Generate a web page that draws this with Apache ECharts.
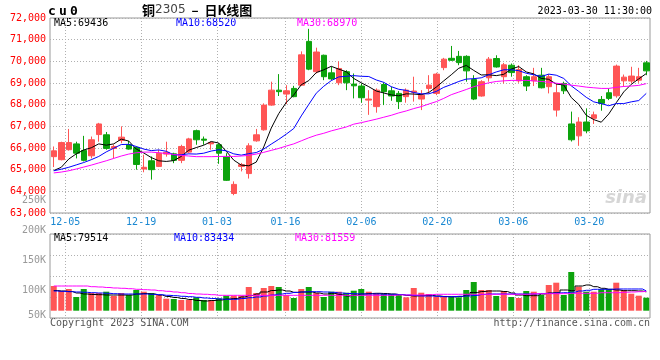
<!DOCTYPE html>
<html><head><meta charset="utf-8">
<script src="https://cdn.jsdelivr.net/npm/echarts/dist/echarts.min.js"></script>
<style>html,body{margin:0;padding:0;background:#fff}#c{width:660px;height:360px}</style>
</head><body><div id="c"></div>
<script>
const dates = ['12-01','12-02','12-05','12-06','12-07','12-08','12-09','12-12','12-13','12-14','12-15','12-16','12-19','12-20','12-21','12-22','12-23','12-26','12-27','12-28','12-29','12-30','01-03','01-04','01-05','01-06','01-09','01-10','01-11','01-12','01-13','01-16','01-17','01-18','01-19','01-20','01-30','01-31','02-01','02-02','02-03','02-06','02-07','02-08','02-09','02-10','02-13','02-14','02-15','02-16','02-17','02-20','02-21','02-22','02-23','02-24','02-27','02-28','03-01','03-02','03-03','03-06','03-07','03-08','03-09','03-10','03-13','03-14','03-15','03-16','03-17','03-20','03-21','03-22','03-23','03-24','03-27','03-28','03-29','03-30'];
const tickDates = ['12-05','12-19','01-03','01-16','02-06','02-20','03-06','03-20'];

const opens  = [65600,65460,65920,66190,65890,65640,66620,66610,65980,66350,66150,66020,65030,65410,65150,65720,65730,65430,65810,66800,66410,66190,66150,65610,63900,65150,64820,66330,66840,67980,68670,68490,68750,68900,70920,69520,70280,69470,69010,69520,68950,68860,68210,67910,68930,68640,68520,68370,68570,68260,68750,68520,69710,70140,70230,70230,69160,68400,69240,70130,69290,69820,69100,69290,69100,69360,68830,67750,68980,67110,66560,67200,67370,68240,68550,68410,69100,69090,69130,69930];
const closes = [65870,66250,66250,65760,65430,66380,67110,65980,66070,66500,65950,65240,65110,65000,65760,65800,65430,66070,66420,66380,66360,66250,65760,64510,64320,65230,66100,66610,67980,68670,68600,68640,68370,70300,69640,70430,69290,69190,69670,69010,68870,68320,68260,68670,68600,68400,68140,68670,68630,68440,68900,69410,70100,70050,69940,69560,68260,69060,70100,69740,69840,69480,69620,68860,69290,68780,69290,68550,68640,66380,67200,66790,67530,68060,68290,69780,69270,69320,69290,69560];
const lows   = [65120,65430,65880,65520,65380,65520,66290,65920,65520,66220,65920,65000,64880,64540,65120,65600,65300,65300,65760,66150,66150,65920,65270,64480,63820,64920,64590,66290,66800,67950,68400,68030,68340,68860,69590,69440,69130,69130,68900,68670,68290,68090,67530,67630,67980,68180,67800,68090,68140,67750,68520,68440,69590,70020,69820,69060,68210,68370,69060,69710,68980,69290,69010,68630,68860,68750,68520,67450,68490,66300,66100,66680,67110,67720,68210,68320,68830,68980,69010,69360];
const highs  = [66070,66290,66880,66290,66560,66530,67160,66740,66160,67000,66330,66070,65690,65610,65920,66290,65780,66150,66470,66850,66530,66300,66220,65760,64460,65310,66220,66880,68060,69060,69410,68900,68870,70460,71500,70630,70310,69750,70000,69590,69440,68980,68670,68750,69030,68830,68630,68750,69290,68670,69360,69470,70160,70710,70480,70280,69360,69130,70200,70280,69930,69900,69820,69360,69700,69700,69410,68980,69060,67680,67420,67830,67680,68400,68750,69850,69390,69750,69700,70020];

const ma5  = [64960,65110,65490,65730,65910,66010,66190,66130,66190,66410,66320,65950,65770,65560,65410,65380,65420,65610,65900,66020,66130,66300,66230,65850,65440,65210,65180,65350,66050,66920,67590,68100,68450,68920,69110,69480,69610,69770,69640,69520,69210,69010,68830,68630,68540,68450,68410,68500,68490,68460,68560,68810,69100,69380,69680,69810,69580,69370,69380,69340,69400,69640,69760,69510,69420,69210,69170,68950,68910,68330,68010,67510,67310,67190,67570,68090,68590,68940,69190,69436];
const ma10 = [64950,65020,65110,65220,65330,65460,65610,65820,65990,66160,66170,66070,65950,65880,65910,65850,65680,65690,65730,65720,65760,65860,65920,65870,65730,65670,65740,65790,65950,66180,66400,66640,66900,67480,68010,68530,68850,69110,69280,69310,69340,69310,69300,69140,69030,68830,68710,68660,68560,68500,68500,68610,68800,68930,69070,69180,69200,69240,69380,69510,69610,69610,69570,69450,69380,69300,69410,69360,69210,68870,68610,68340,68130,68050,67950,68050,68050,68130,68190,68520];
const ma30 = [64850,64890,64950,65030,65120,65210,65310,65410,65520,65630,65720,65780,65810,65810,65780,65750,65700,65660,65630,65600,65600,65600,65610,65610,65610,65630,65660,65720,65800,65890,65980,66090,66190,66330,66470,66590,66680,66790,66880,66970,67100,67170,67250,67330,67420,67510,67620,67710,67820,67910,68030,68140,68290,68460,68580,68700,68830,68920,69010,69070,69100,69120,69120,69120,69100,69070,69040,68990,68950,68900,68860,68810,68780,68750,68750,68800,68840,68860,68890,68970];

const volumes = [104300,83200,91700,57900,91700,74800,74800,80300,62100,74800,66300,87400,80300,74800,66300,50700,49400,45200,45200,56600,45200,45200,52400,63400,63400,63400,100100,74800,95900,104300,100100,66300,53600,91700,100100,74800,57900,80300,80300,76000,84500,91700,80300,73500,70500,70500,69300,56600,95900,76000,70500,59100,59100,59100,56600,87400,121200,87400,87400,62100,83200,57900,53600,83200,80300,66300,108600,118300,66300,163500,101400,80300,80300,90400,90400,118300,87400,71800,63400,54900];
const volMa5  = [85300,83200,81100,74800,70500,68400,67600,66300,66300,66300,66300,70500,72700,70500,66300,60000,55800,51500,47300,43100,41000,43100,45200,49400,51500,57900,64200,70500,79000,85300,87400,83200,77700,79000,79000,74800,70500,73500,68400,62100,66300,70500,72700,73500,72700,70500,68400,64200,62100,64200,65000,62100,60000,59100,60000,66300,76900,81100,83200,83200,81100,74800,66300,63400,63400,70500,74800,76000,87400,84500,104300,108600,101400,94600,90400,87400,84500,84500,83200,79500];
const volMa10 = [83200,81900,80300,79000,77700,76000,74800,73500,71800,70500,70500,70500,70500,69300,67600,65000,63400,60800,59100,56600,53600,51500,49400,48200,48200,51500,54900,57900,62100,66300,70500,73500,76900,79000,80300,80300,79000,77700,74800,72700,71800,70500,70500,70500,69300,69300,68400,66300,64200,62100,62100,60800,59100,59100,60800,62100,64200,68400,70500,70500,70500,70500,70500,70500,70500,72700,73500,74800,76000,78000,83200,86200,90400,90400,90400,91700,91700,91700,91700,83400];
const volMa30 = [104300,104300,104300,104300,104300,101400,100100,98000,95900,94600,92900,90400,88700,87400,84500,81900,79000,76000,72700,70500,69300,67600,65000,65000,65000,65000,65000,65000,65000,65000,65000,65000,65000,65000,65000,65000,65000,65000,65000,65000,65000,65000,65000,65000,65000,65000,66300,66300,66300,66300,67600,69300,69300,69300,69300,69300,69300,69300,69300,69300,69300,69300,69300,69300,71800,71800,71800,71800,71800,73500,73500,73500,73500,76000,76000,76000,77700,79000,80300,81600];

const priceMin = 63000, priceMax = 72000, priceStep = 1000;
const volTickValues = [50000,100000,150000,200000,250000];
const volTickLabels = ['50K','100K','150K','200K','250K'];

const RED = '#ff5555', GREEN = '#0ca30c', MONO = 'DejaVu Sans Mono';
const tickIdx = dates.map((d,i)=>tickDates.includes(d)?i:-1).filter(i=>i>=0);
const showTick = (i)=>tickIdx.includes(i);
const dotted = {color:'#b0b0b0', width:1, type:[1,2]};

const chart = echarts.init(document.getElementById('c'), null, {renderer:'canvas'});
const candleData = opens.map((o,i)=>[o, closes[i], lows[i], highs[i]]);
const lineS = (name, data, color, x, y, step) => ({
  name, type:'line', data, xAxisIndex:x, yAxisIndex:y, showSymbol:false, symbol:'none',
  step: step || false, smooth:false, lineStyle:{color, width:1}, itemStyle:{color}, silent:true, z:5
});

chart.setOption({
  animation:false,
  backgroundColor:'#fff',
  grid:[
    {left:50, top:18, width:600, height:195, show:true, borderColor:'#999', borderWidth:1, backgroundColor:'transparent', outerBoundsMode:'none', containLabel:false},
    {left:50, top:234, width:600, height:84, show:true, borderColor:'#999', borderWidth:1, backgroundColor:'transparent', outerBoundsMode:'none', containLabel:false},
    {left:50, top:234, width:600, height:76.7, show:false, outerBoundsMode:'none', containLabel:false},
    {left:50, top:200, width:600, height:120, show:false, outerBoundsMode:'none', containLabel:false}
  ],
  xAxis:[
    {gridIndex:0, type:'category', data:dates, boundaryGap:true, show:false},
    {gridIndex:0, type:'category', data:dates, boundaryGap:false, position:'bottom',
      axisLine:{show:false}, axisTick:{show:false},
      axisLabel:{interval:showTick, color:'#1a88d2', fontFamily:MONO, fontSize:10, margin:4, hideOverlap:false},
      splitLine:{show:true, interval:showTick, lineStyle:dotted}},
    {gridIndex:1, type:'category', data:dates, boundaryGap:false,
      axisLine:{show:false}, axisTick:{show:false}, axisLabel:{show:false},
      splitLine:{show:true, interval:showTick, lineStyle:dotted}},
    {gridIndex:2, type:'category', data:dates, boundaryGap:true, show:false},
    {gridIndex:3, type:'value', min:0, max:1, show:false}
  ],
  yAxis:[
    {gridIndex:0, type:'value', min:priceMin, max:priceMax, interval:priceStep,
      axisLine:{show:false}, axisTick:{show:false},
      axisLabel:{color:'#ff0000', fontFamily:MONO, fontSize:10, margin:4, showMinLabel:true, showMaxLabel:true},
      splitLine:{show:true, lineStyle:dotted}},
    {gridIndex:1, type:'value', min:0, max:4, interval:1,
      axisLine:{show:false}, axisTick:{show:false}, axisLabel:{show:false},
      splitLine:{show:true, lineStyle:dotted}},
    {gridIndex:2, type:'value', min:0, max:324000, show:false},
    {gridIndex:3, type:'value', min:volTickValues[0], max:volTickValues[volTickValues.length-1], interval:50000,
      axisLine:{show:false}, axisTick:{show:false}, splitLine:{show:false},
      axisLabel:{color:'#999', fontFamily:MONO, fontSize:10, margin:4, showMinLabel:true, showMaxLabel:true,
        verticalAlignMinLabel:'bottom',
        formatter:(v)=>volTickLabels[volTickValues.indexOf(v)] || ''}}
  ],
  series:[
    {name:'K', type:'candlestick', xAxisIndex:0, yAxisIndex:0, data:candleData, barWidth:6,
      itemStyle:{color:RED, color0:GREEN, borderColor:RED, borderColor0:GREEN, borderWidth:1}, silent:true, z:3},
    lineS('MA5', ma5, '#000000', 0, 0),
    lineS('MA10', ma10, '#0000ff', 0, 0),
    lineS('MA30', ma30, '#ff00ff', 0, 0),
    {name:'VOL', type:'bar', xAxisIndex:3, yAxisIndex:2, data:volumes, barWidth:6, silent:true, z:3,
      itemStyle:{color:(p)=> closes[p.dataIndex] >= opens[p.dataIndex] ? RED : GREEN}},
    lineS('VMA5', volMa5, '#000000', 3, 2, 'middle'),
    lineS('VMA10', volMa10, '#0000ff', 3, 2, 'middle'),
    lineS('VMA30', volMa30, '#ff00ff', 3, 2, 'middle')
  ],
  graphic:[
    {type:'text', style:{text:'{c|c}{c|u}{c|0}', x:48, y:11.5, verticalAlign:'middle',
      rich:{c:{fontFamily:MONO, fontWeight:'bold', fontSize:13, fill:'#000', width:11}}}},
    {type:'text', style:{text:'{a|铜}{b|2305}{a|  –  日K线图}', x:142, y:10, verticalAlign:'middle',
      rich:{a:{fontFamily:'Noto Sans CJK SC', fontSize:13, fill:'#000', fontWeight:'bold'}, b:{fontFamily:'DejaVu Sans', fontSize:12, fill:'#444'}}}},
    {type:'text', style:{text:'2023-03-30 11:30:00', x:652, y:11.5, align:'right', verticalAlign:'middle', font:'10px "DejaVu Sans Mono"', fill:'#000'}},
    {type:'text', style:{text:'MA5:69436', x:54, y:23.7, verticalAlign:'middle', font:'10px "DejaVu Sans Mono"', fill:'#000'}},
    {type:'text', style:{text:'MA10:68520', x:176, y:23.7, verticalAlign:'middle', font:'10px "DejaVu Sans Mono"', fill:'#0000ff'}},
    {type:'text', style:{text:'MA30:68970', x:297, y:23.7, verticalAlign:'middle', font:'10px "DejaVu Sans Mono"', fill:'#ff00ff'}},
    {type:'text', style:{text:'MA5:79514', x:54, y:238.5, verticalAlign:'middle', font:'10px "DejaVu Sans Mono"', fill:'#000'}},
    {type:'text', style:{text:'MA10:83434', x:174, y:238.5, verticalAlign:'middle', font:'10px "DejaVu Sans Mono"', fill:'#0000ff'}},
    {type:'text', style:{text:'MA30:81559', x:295, y:238.5, verticalAlign:'middle', font:'10px "DejaVu Sans Mono"', fill:'#ff00ff'}},
    {type:'text', style:{text:'Copyright 2023 SINA.COM', x:50, y:323.3, verticalAlign:'middle', font:'10px "DejaVu Sans Mono"', fill:'#555'}},
    {type:'text', style:{text:'http://finance.sina.com.cn', x:650, y:323.3, align:'right', verticalAlign:'middle', font:'10px "DejaVu Sans Mono"', fill:'#555'}},
    {type:'text', style:{text:'sina', x:647, y:198, align:'right', verticalAlign:'middle', font:'italic bold 18px "DejaVu Sans"', fill:'#d6d6d6'}, z:1}
  ]
});
</script>
</body></html>
